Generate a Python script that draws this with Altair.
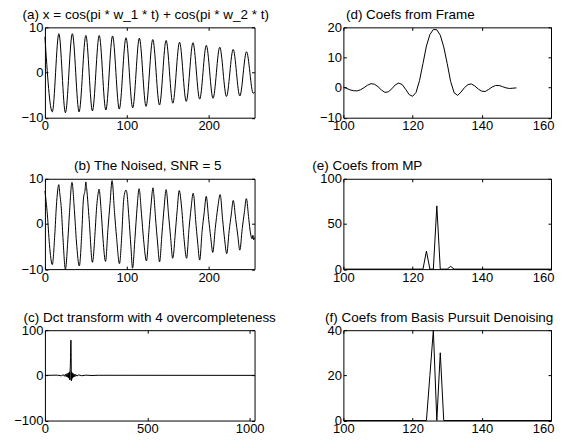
import altair as alt
import pandas as pd

FONT = "Liberation Sans"

# (a) clean signal: extrema
a_t = [0, 9, 17, 25, 33.5, 41.7, 50, 58, 66.3, 74.4, 82.6, 90.8, 99, 107.2, 115.3, 123.5,
       131.7, 139.9, 148, 156.2, 164.4, 172.6, 180.8, 189, 197.1, 205.3, 213.5, 221.7,
       229.9, 238, 246.2, 254.4, 256]
a_v = [7.9, -8.7, 8.6, -8.9, 8.6, -8.7, 8.2, -8.5, 8.2, -8.3, 8.1, -8.1, 7.7, -7.8, 7.6, -7.5,
       7.3, -7.2, 7.1, -6.8, 6.7, -6.4, 6.6, -5.9, 6.0, -5.7, 5.6, -5.3, 5.1, -5.2, 4.6, -4.6, -4.3]

# (b) noisy signal
b_t = [0, 3, 5.5, 9, 12, 14, 17, 18, 20, 22, 25, 28, 30, 33, 36, 38.5, 42, 45, 47, 49, 50, 51, 54,
       58, 59, 61, 63.5, 65, 66, 69, 71, 74, 77, 79.5, 82, 85, 87.5, 91, 94, 96, 97, 99, 100, 102.5,
       105, 107, 110, 112.5, 115, 118, 120.5, 124, 127, 129.5, 132, 133, 135, 137.5, 140, 143,
       145.5, 148, 151, 153.5, 156, 157, 159, 161.5, 164, 167, 170, 173, 176, 178.5, 181, 182, 184,
       186.5, 189, 192, 194.5, 197, 200, 202.5, 205, 208, 211, 214, 217, 219.5, 222, 225,
       227.5, 230, 233, 235.5, 238, 241, 243.5, 246, 249, 251, 253, 254, 255, 256]
b_v = [7.3, 2.0, -4.5, -9.0, -2.5, 4.0, 8.7, 7.0, 3.5, -3.0, -10.0, -3.5, 2.5, 9.2, 3.0, -4.0, -9.3,
       -2.0, 5.5, 7.5, 9.3, 7.8, 1.0, -8.5, -7.6, -2.5, 4.5, 6.8, 7.7, 2.0, -3.5, -8.3, -1.0, 4.5, 9.6,
       2.5, -3.0, -8.8, -2.0, 5.0, 6.5, 7.5, 7.0, 1.5, -5.0, -9.8, -3.0, 3.5, 7.8, 2.0, -3.5,
       -8.2, -1.5, 4.0, 8.0, 6.5, 1.5, -4.0, -8.4, -2.0, 3.5, 7.6, 2.0, -3.0, -7.6, -6.8, -2.5, 3.0, 7.4,
       3.5, -3.5, -7.6, -1.0, 3.5, 6.8, 6.0, 1.0, -4.0, -8.0, -1.5, 2.5, 6.1, 1.0, -3.0, -6.3, -1.0,
       3.5, 6.5, 1.0, -3.5, -6.6, -1.5, 2.0, 5.2, 1.0, -2.5, -5.8, -1.0, 2.5, 5.6, 1.0, -2.0,
       -3.3, -2.5, -3.5, -3.0]

# (c) overcomplete DCT coefficients
c_i = [0, 60, 80, 90, 95, 100, 104, 108, 111, 114, 116, 118, 120, 121, 122, 123, 124, 125,
       126, 127, 128, 129, 130, 131, 132, 134, 136, 139, 142, 146, 150, 156, 165, 180, 200,
       230, 260, 1024]
c_v = [0, 0.5, -1, 1.5, -2, 2.5, -3, 4, -4, 5, -6, 6, -9, 8, -10, 12, 20, 40, 65, 78, 50,
       -12, 8, -9, 6, -6, 5, -4, 3, -3, 2, -1.5, 1, -0.8, 0.5, -0.3, 0.2, 0]

# (d) coefficients from frame, index 100..150
d_i = list(range(100, 151))
d_v = [0.2, -0.3, -0.8, -1.05, -1.1, -0.7, 0.0, 0.8, 1.3, 1.1, 0.3, -0.8, -1.6, -1.4, -0.4,
       0.9, 1.5, 1.0, -0.6, -2.3, -2.9, -1.6, 2.3, 8.0, 13.8, 17.6, 19.3, 19.2, 17.4, 13.5,
       8.0, 2.0, -1.7, -2.6, -1.5, 0.0, 1.0, 1.2, 0.5, -0.5, -1.2, -1.3, -0.6, 0.2, 0.7, 0.7,
       0.3, -0.1, -0.3, -0.2, -0.1]

# (e) coefficients from MP
e_i = [100, 123, 124, 125, 126, 127, 128, 130, 131, 132, 160]
e_v = [0, 0, 20, 0, 0, 70, 0, 0, 3, 0, 0]

# (f) coefficients from BP denoising
f_i = [100, 124, 125, 126, 127, 128, 129, 160]
f_v = [0, 0, 20, 40, 0, 30, 0, 0]


def panel(x, y, title, xdom, xticks, ydom, yticks, w, h, interp="linear", dx=0, last_shift=0):
    df = pd.DataFrame({"x": x, "y": y})
    xs = alt.Scale(domain=xdom, nice=False, zero=False)
    ys = alt.Scale(domain=ydom, nice=False, zero=False)
    common = dict(grid=False, domain=False, tickSize=3, tickColor="black", tickWidth=1,
                  offset=-3, title=None, labelFlush=False, format="d")
    lab = dict(labelFont=FONT, labelFontSize=13, labelColor="black", labelPadding=2)
    xlab = dict(lab)
    if last_shift:
        xlab["labelOffset"] = {"condition": {"test": f"datum.value >= {xticks[-1]}",
                                             "value": last_shift}, "value": 0}
    line = alt.Chart(df).mark_line(color="black", strokeWidth=1, interpolate=interp).encode(
        x=alt.X("x:Q", scale=xs, axis=alt.Axis(values=xticks, orient="bottom", **xlab, **common)),
        y=alt.Y("y:Q", scale=ys, axis=alt.Axis(values=yticks, orient="left", **lab, **common)),
    )
    ghost = alt.Chart(df).mark_line(opacity=0).encode(
        x=alt.X("x:Q", scale=xs, axis=alt.Axis(values=xticks, orient="top", labels=False, **common)),
        y=alt.Y("y:Q", scale=ys, axis=alt.Axis(values=yticks, orient="right", labels=False, **common)),
    )
    return alt.layer(line, ghost).resolve_axis(x="independent", y="independent").properties(
        width=w, height=h,
        title=alt.TitleParams(text=title, font=FONT, fontSize=13.5, fontWeight="normal",
                              color="black", anchor="middle", frame="group", dx=dx, offset=0),
    )


W1, W2, H = 210, 208, 90.5
pa = panel(a_t, a_v, "(a) x = cos(pi * w_1 * t) + cos(pi * w_2 * t)", [0, 256], [0, 100, 200],
           [-10, 10], [-10, 0, 10], W1, H, "monotone", -4)
pb = panel(b_t, b_v, "(b) The Noised, SNR = 5", [0, 256], [0, 100, 200],
           [-10, 10], [-10, 0, 10], W1, H, "monotone", -2)
pc = panel(c_i, c_v, "(c) Dct transform with 4 overcompleteness", [0, 1024], [0, 500, 1000],
           [-100, 100], [-100, 0, 100], W1, H, "linear", 0)
pd_ = panel(d_i, d_v, "(d) Coefs from Frame", [100, 160], [100, 120, 140, 160],
            [-10, 20], [-10, 0, 10, 20], W2, H, "linear", -37, -8)
pe = panel(e_i, e_v, "(e) Coefs from MP", [100, 160], [100, 120, 140, 160],
           [0, 100], [0, 50, 100], W2, H, "linear", -80, -8)
pf = panel(f_i, f_v, "(f) Coefs from Basis Pursuit Denoising", [100, 160], [100, 120, 140, 160],
           [0, 40], [0, 20, 40], W2, H, "linear", -8, -8)

chart = alt.concat(pa, pd_, pb, pe, pc, pf, columns=2, spacing={"row": 60.7, "column": 89},
                   bounds="flush").properties(
    padding={"left": 5, "top": -1, "right": 0, "bottom": -2}
).configure_view(stroke="black", strokeWidth=1)

chart.save("out.html", embed_options={"renderer": "svg", "actions": False})
